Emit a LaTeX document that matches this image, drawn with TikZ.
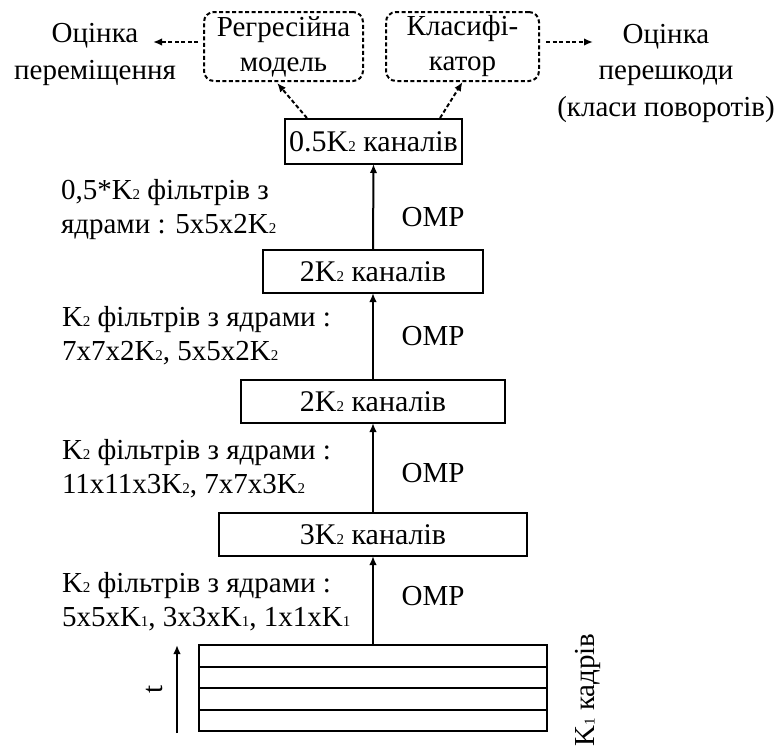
\documentclass[tikz,border=0pt]{standalone}
\usepackage{fontspec}
\setmainfont{Liberation Serif}
\usetikzlibrary{arrows.meta,calc}
% small index digit set on the baseline
\newcommand{\lidx}[1]{{\fontsize{15}{15}\selectfont #1}}
\begin{document}
\begin{tikzpicture}[x=1pt,y=-1pt,
  every node/.style={font=\fontsize{29}{34}\selectfont, inner sep=0pt, outer sep=0pt},
  layer/.style={draw, line width=2pt, minimum height=43pt, font=\fontsize{30}{34}\selectfont},
  headbox/.style={draw, line width=2pt, rounded corners=10pt, dash pattern=on 4pt off 2.5pt, minimum height=69pt, align=center, font=\fontsize{29}{35}\selectfont},
  frame/.style={draw, line width=2pt, minimum width=348pt, minimum height=21.5pt},
  flow/.style={line width=2pt, -{Latex[length=9pt,width=7.5pt]}},
  dflow/.style={line width=2pt, dash pattern=on 4pt off 2.5pt, -{Latex[length=9pt,width=7.5pt]}},
  note/.style={anchor=west, align=left},
  estimate/.style={align=center, font=\fontsize{29}{36.5}\selectfont},
  omp/.style={anchor=base}]
\useasboundingbox (0,0) rectangle (783,747);

% input frame stack
\node[frame] (f4) at (373,720.25) {};
\node[frame] (f3) at (373,698.75) {};
\node[frame] (f2) at (373,677.25) {};
\node[frame] (f1) at (373,655.75) {};

% feature layers
\node[layer, minimum width=308pt] (l1) at (373,534.5) {3K\lidx{2} каналів};
\node[layer, minimum width=264pt] (l2) at (373,401.5) {2K\lidx{2} каналів};
\node[layer, minimum width=220pt] (l3) at (373,271.5) {2K\lidx{2} каналів};
\node[layer, minimum width=177pt, minimum height=45pt] (l4) at (373.5,141.5) {0.5K\lidx{2} каналів};

% output heads
\node[headbox, minimum width=159pt] (reg) at (283.5,46.5) {Регресійна\\модель};
\node[headbox, minimum width=153pt] (cls) at (462.5,46.5) {Класифі-\\катор};

% estimates
\node[estimate] (move) at (95,54.4) {Оцінка\\переміщення};
\node[estimate] (obst) at (666,73.4) {Оцінка\\перешкоди\\(класи поворотів)};

% main flow
\draw[flow] (f1.north) -- (l1.south);
\draw[flow] (l1.north) -- (l2.south);
\draw[flow] (l2.north) -- (l3.south);
\draw[flow] (l3.north) -- (l4.south);

% branches to the heads
\coordinate (l4a) at ($(l4.north west)!0.124!(l4.north east)+(0,-1)$);
\coordinate (l4b) at ($(l4.north west)!0.876!(l4.north east)+(0,-1)$);
\coordinate (rega) at ($(reg.south west)!0.46!(reg.south east)+(0,2)$);
\coordinate (clsa) at ($(cls.south)+(0,1)$);
\draw[dflow] (l4a) -- (rega);
\draw[dflow] (l4b) -- (clsa);

% head outputs
\coordinate (regout) at (198,42);
\coordinate (movee) at (153,42);
\coordinate (clsout) at (546,42);
\coordinate (obste) at (593,42);
\draw[dflow] (regout) -- (movee);
\draw[dflow] (clsout) -- (obste);

% filter descriptions
\node[note] (n4) at (61,209.4) {0,5*K\lidx{2} фільтрів з\\ядрами : 5x5x2K\lidx{2}};
\node[note] (n3) at (62,335.2) {K\lidx{2} фільтрів з ядрами :\\7x7x2K\lidx{2}, 5x5x2K\lidx{2}};
\node[note] (n2) at (62,468.2) {K\lidx{2} фільтрів з ядрами :\\11x11x3K\lidx{2}, 7x7x3K\lidx{2}};
\node[note] (n1) at (62,601.7) {K\lidx{2} фільтрів з ядрами :\\5x5xK\lidx{1}, 3x3xK\lidx{1}, 1x1xK\lidx{1}};

\node[omp] (o4) at (433,226) {OMP};
\node[omp] (o3) at (433,345) {OMP};
\node[omp] (o2) at (433,482) {OMP};
\node[omp] (o1) at (433,605) {OMP};

% time axis
\coordinate (t0) at (177,733);
\coordinate (t1) at (177,645);
\draw[flow] (t0) -- (t1);
\node[rotate=90] (tl) at (154,689) {t};
\node[rotate=90] (kl) at (588,690) {K\lidx{1} кадрів};
\end{tikzpicture}
\end{document}
